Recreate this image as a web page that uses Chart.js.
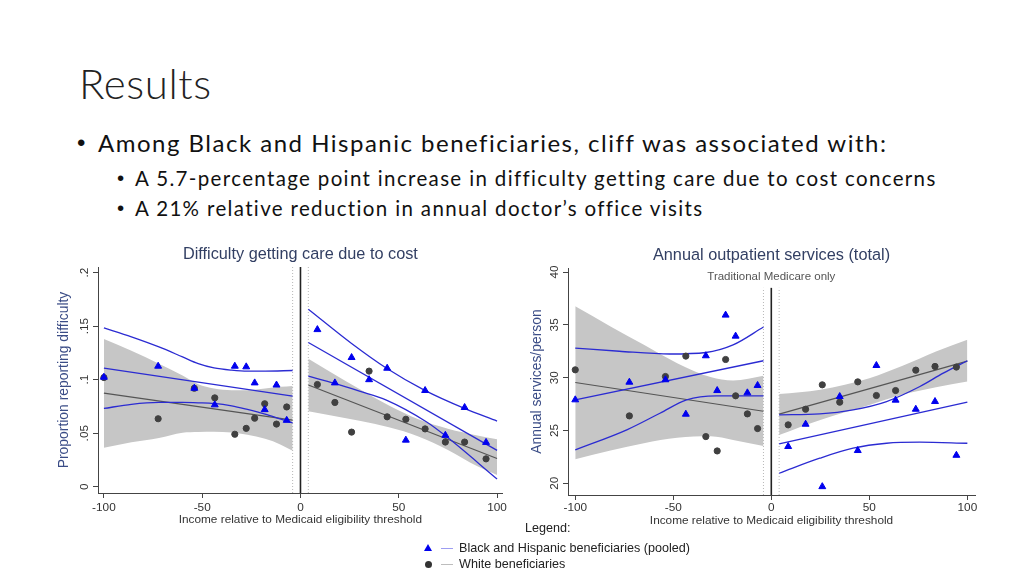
<!DOCTYPE html>
<html>
<head>
<meta charset="utf-8">
<script src="https://cdn.jsdelivr.net/npm/chart.js@4.4.0/dist/chart.umd.min.js"></script>
<style>
  html, body { margin: 0; padding: 0; background: #fff; }
  #slide { position: relative; width: 1024px; height: 576px; overflow: hidden; font-family: Lato, Calibri, sans-serif; color: #111; }
  .title { position: absolute; left: 79px; top: 57.5px; font-size: 42px; line-height: 1.2; font-weight: 300; letter-spacing: 0.6px; color: #222; }
  .line { position: absolute; line-height: 1.2; white-space: nowrap; }
  .bul { position: absolute; font-family: "Liberation Sans", Arial, sans-serif; letter-spacing: 0; }
  #l1 { left: 98px; top: 128.8px; font-size: 24px; letter-spacing: 1.5px; }
  #l1 .bul { left: -21px; }
  #l2 { left: 135px; top: 165.8px; font-size: 20.5px; letter-spacing: 1.35px; }
  #l3 { left: 135px; top: 195.5px; font-size: 20.5px; letter-spacing: 1.35px; }
  #l2 .bul, #l3 .bul { left: -18px; }
  canvas { position: absolute; }
  #chart1 { left: 50px; top: 240px; }
  #chart2 { left: 523px; top: 240px; }
  .legend { position: absolute; font-family: "Liberation Sans", Arial, sans-serif; font-size: 12.6px; color: #222; white-space: nowrap; }
  .tri { position: absolute; width: 0; height: 0; border-left: 4px solid transparent; border-right: 4px solid transparent; border-bottom: 7px solid #0000ee; }
  .dot { position: absolute; width: 7px; height: 7px; border-radius: 50%; background: #333; }
  .seg { position: absolute; width: 12px; height: 1px; }
</style>
</head>
<body>
<div id="slide">
  <div class="title">Results</div>
  <div class="line" id="l1"><span class="bul">•</span>Among Black and Hispanic beneficiaries, cliff was associated with:</div>
  <div class="line" id="l2"><span class="bul">•</span>A 5.7-percentage point increase in difficulty getting care due to cost concerns</div>
  <div class="line" id="l3"><span class="bul">•</span>A 21% relative reduction in annual doctor’s office visits</div>

  <canvas id="chart1" width="460" height="290"></canvas>
  <canvas id="chart2" width="457" height="290"></canvas>

  <div class="legend" style="left:525px; top:521px;">Legend:</div>
  <div class="tri" style="left:424px; top:544px;"></div>
  <div class="seg" style="left:441px; top:548px; background:#9d9df2;"></div>
  <div class="legend" style="left:459px; top:541px;">Black and Hispanic beneficiaries (pooled)</div>
  <div class="dot" style="left:425px; top:561px;"></div>
  <div class="seg" style="left:441px; top:564px; background:#bdbdbd;"></div>
  <div class="legend" style="left:459px; top:557px;">White beneficiaries</div>
</div>

<script>
// 分箱的收入位置（两张图共用）
const binX = [-100, -72.4, -54, -43.6, -33.4, -27.6, -23.3, -18.2, -12.2, -7,
              8.6, 17.5, 26, 34.9, 44.1, 53.6, 63.4, 73.7, 83.5, 94.4];

// 刻度
const xTickValues = [-100, -50, 0, 50, 100];
const diffTickValues = [0, 0.05, 0.1, 0.15, 0.2];
const diffTickLabels = ['0', '.05', '.1', '.15', '.2'];
const outTickValues = [20, 25, 30, 35, 40];
const outTickLabels = ['20', '25', '30', '35', '40'];

// 图1：Difficulty getting care due to cost
const diffBH = [0.1023, 0.1126, 0.092, 0.0765, 0.1126, 0.112, 0.097, 0.072, 0.095, 0.062,
                0.1468, 0.097, 0.1207, 0.1, 0.1107, 0.0435, 0.0899, 0.048, 0.074, 0.0414];
const diffWhite = [0.102, 0.0635, 0.092, 0.083, 0.049, 0.0545, 0.064, 0.0775, 0.0585, 0.0745,
                   0.0955, 0.0787, 0.051, 0.108, 0.0653, 0.063, 0.054, 0.0417, 0.0417, 0.026];

const diffWhiteFitLeftX = [-100, -4];
const diffWhiteFitLeftY = [0.0874, 0.0622];
const diffWhiteBandLeftX = [-100, -86, -72, -60, -52, -44, -35, -27, -18, -10, -4];
const diffWhiteBandLeftHi = [0.138, 0.127, 0.115, 0.104, 0.0958, 0.0918, 0.0902, 0.0902, 0.0918, 0.0933, 0.0942];
const diffWhiteBandLeftLo = [0.0364, 0.0415, 0.0455, 0.0504, 0.051, 0.0513, 0.0506, 0.0485, 0.0447, 0.0393, 0.0336];

const diffWhiteFitRightX = [4, 100];
const diffWhiteFitRightY = [0.095, 0.0264];
const diffWhiteBandRightX = [4, 15, 30, 45, 60, 75, 90, 100];
const diffWhiteBandRightHi = [0.1195, 0.1073, 0.0912, 0.0759, 0.063, 0.0542, 0.0479, 0.0444];
const diffWhiteBandRightLo = [0.0705, 0.0667, 0.0616, 0.0555, 0.047, 0.0344, 0.0191, 0.011];

const diffBHFitLeftX = [-100, -4];
const diffBHFitLeftY = [0.1107, 0.0846];
const diffBHHiLeftX = [-100, -86, -72, -60, -52, -44, -35, -27, -18, -4];
const diffBHHiLeftY = [0.1484, 0.14, 0.1306, 0.1213, 0.115, 0.111, 0.1089, 0.108, 0.108, 0.1086];
const diffBHLoLeftX = [-100, -86, -72, -60, -52, -44, -35, -27, -18, -10, -4];
const diffBHLoLeftY = [0.0731, 0.077, 0.0787, 0.0787, 0.0784, 0.0778, 0.0756, 0.0722, 0.0678, 0.0631, 0.0597];

const diffBHFitRightX = [4, 100];
const diffBHFitRightY = [0.1347, 0.0339];
const diffBHHiRightX = [4, 26, 44, 63, 83.4, 100];
const diffBHHiRightY = [0.1658, 0.1338, 0.1104, 0.0902, 0.0731, 0.0613];
const diffBHLoRightX = [4, 17.5, 30, 43.7, 64, 73.3, 100];
const diffBHLoRightY = [0.1033, 0.0965, 0.0893, 0.0809, 0.0607, 0.0482, 0.0072];

// 图2：Annual outpatient services (total)
const outBH = [27.9, 29.57, 29.8, 26.54, 32.07, 28.78, 35.92, 33.93, 28.56, 29.26,
               23.48, 25.59, 19.68, 28.21, 23.1, 31.15, 27.87, 27.01, 27.74, 22.65];
const outWhite = [30.74, 26.38, 30.11, 32.04, 24.42, 23.06, 31.72, 28.28, 26.57, 25.18,
                  25.53, 27.01, 29.32, 27.68, 29.6, 28.31, 28.78, 30.71, 31.06, 31.0];

const outWhiteFitLeftX = [-100, -4];
const outWhiteFitLeftY = [29.54, 26.82];
const outWhiteBandLeftX = [-100, -82, -65, -48, -31, -19.5, -4];
const outWhiteBandLeftHi = [36.75, 34.85, 33.11, 31.37, 30.05, 29.73, 30.17];
const outWhiteBandLeftLo = [22.27, 23.1, 23.8, 24.3, 24.45, 24.1, 23.54];

const outWhiteFitRightX = [4, 100];
const outWhiteFitRightY = [26.54, 31.56];
const outWhiteBandRightX = [4, 25, 50, 67, 84, 100];
const outWhiteBandRightHi = [28.44, 28.85, 29.95, 31.12, 32.48, 33.59];
const outWhiteBandRightLo = [24.58, 26.0, 27.42, 28.4, 29.1, 29.64];

const outBHFitLeftX = [-100, -4];
const outBHFitLeftY = [27.9, 31.6];
const outBHHiLeftX = [-100, -77.5, -51.7, -33.4, -19.5, -4];
const outBHHiLeftY = [32.8, 32.5, 32.24, 32.38, 33.1, 34.79];
const outBHLoLeftX = [-100, -73.7, -56.8, -43.2, -28, -4];
const outBHLoLeftY = [23.16, 25.06, 26.63, 27.9, 28.28, 28.28];

const outBHFitRightX = [4, 100];
const outBHFitRightY = [23.73, 27.68];
const outBHHiRightX = [4, 24.7, 41.7, 58.8, 75.8, 87.7, 100];
const outBHHiRightY = [26.48, 26.57, 26.95, 27.74, 29.16, 30.43, 31.6];
const outBHLoRightX = [4, 24.7, 41.7, 58.8, 75.8, 100];
const outBHLoRightY = [20.95, 22.37, 23.32, 23.79, 23.89, 23.79];

// 断点线（收入阈值 0，带宽 ±4）
const cutX = 0;
const windowX = [-4, 4];

const FONT = '"Liberation Sans", Arial, sans-serif';
const BLUE = '#0000ee';
const BLUE_LINE = '#2b2bd2';
const DARK = '#404040';
const BAND = '#c6c6c6';

// 把两个数组拼成点
function pts(xs, ys) {
    return xs.map((x, i) => ({ x: x, y: ys[i] }));
}

function lineSet(xs, ys, color, width, curved) {
    return {
        data: pts(xs, ys),
        borderColor: color,
        borderWidth: width,
        pointRadius: 0,
        fill: false,
        cubicInterpolationMode: curved ? 'monotone' : 'default'
    };
}

function bandSets(xs, hi, lo) {
    return [
        { data: pts(xs, hi), borderWidth: 0, pointRadius: 0, backgroundColor: BAND, fill: '+1', cubicInterpolationMode: 'monotone' },
        { data: pts(xs, lo), borderWidth: 0, pointRadius: 0, fill: false, cubicInterpolationMode: 'monotone' }
    ];
}

function vline(x, y0, y1, color, width, dash) {
    return {
        data: [{ x: x, y: y0 }, { x: x, y: y1 }],
        borderColor: color,
        borderWidth: width,
        borderDash: dash,
        pointRadius: 0,
        fill: false
    };
}

// 文字注释插件
const noteText = {
    id: 'noteText',
    afterDraw(chart, args, opts) {
        if (!opts.text) return;
        const ctx = chart.ctx;
        ctx.save();
        ctx.font = '11.5px ' + FONT;
        ctx.fillStyle = '#555';
        ctx.textAlign = 'center';
        ctx.textBaseline = 'middle';
        ctx.fillText(opts.text, chart.scales.x.getPixelForValue(opts.x), chart.scales.y.getPixelForValue(opts.y));
        ctx.restore();
    }
};

function makeChart(id, cfg) {
    const datasets = [
        { data: pts(binX, cfg.bh), showLine: false, pointStyle: 'triangle', pointRadius: 4, borderWidth: 1, pointBackgroundColor: BLUE, pointBorderColor: BLUE },
        { data: pts(binX, cfg.white), showLine: false, pointStyle: 'circle', pointRadius: 3.1, borderWidth: 1, pointBackgroundColor: DARK, pointBorderColor: DARK },
        lineSet(cfg.bhFitL[0], cfg.bhFitL[1], BLUE_LINE, 1.3, false),
        lineSet(cfg.bhHiL[0], cfg.bhHiL[1], BLUE_LINE, 1.3, true),
        lineSet(cfg.bhLoL[0], cfg.bhLoL[1], BLUE_LINE, 1.3, true),
        lineSet(cfg.bhFitR[0], cfg.bhFitR[1], BLUE_LINE, 1.3, false),
        lineSet(cfg.bhHiR[0], cfg.bhHiR[1], BLUE_LINE, 1.3, true),
        lineSet(cfg.bhLoR[0], cfg.bhLoR[1], BLUE_LINE, 1.3, true),
        lineSet(cfg.wFitL[0], cfg.wFitL[1], '#555', 1.2, false),
        lineSet(cfg.wFitR[0], cfg.wFitR[1], '#555', 1.2, false),
        vline(cutX, cfg.yMin, cfg.lineTop, '#222', 1.6, []),
        vline(windowX[0], cfg.yMin, cfg.lineTop, '#b8b8b8', 1, [1, 2]),
        vline(windowX[1], cfg.yMin, cfg.lineTop, '#b8b8b8', 1, [1, 2])
    ].concat(bandSets(cfg.bandL[0], cfg.bandL[1], cfg.bandL[2]), bandSets(cfg.bandR[0], cfg.bandR[1], cfg.bandR[2]));

    return new Chart(document.getElementById(id), {
        type: 'line',
        data: { datasets: datasets },
        plugins: [noteText],
        options: {
            responsive: false,
            animation: false,
            layout: { padding: { left: 0, right: 5, top: 0, bottom: 0 } },
            plugins: {
                legend: { display: false },
                tooltip: { enabled: false },
                title: {
                    display: true,
                    fullSize: false,
                    text: cfg.title,
                    color: '#323f63',
                    font: { family: FONT, size: 16.3, weight: 'normal' },
                    padding: { top: cfg.titleTop, bottom: 2.44 }
                },
                noteText: cfg.note
            },
            scales: {
                x: {
                    type: 'linear',
                    min: cfg.xMin,
                    max: cfg.xMax,
                    afterBuildTicks: s => { s.ticks = xTickValues.map(v => ({ value: v })); },
                    afterFit: s => { s.height = cfg.xAxisH; },
                    grid: { drawOnChartArea: false, drawTicks: true, tickLength: 5, tickColor: '#444' },
                    border: { display: true, color: '#444', width: 1 },
                    ticks: { color: '#333', font: { family: FONT, size: 11.8 }, padding: cfg.xTickPad, maxRotation: 0 },
                    title: {
                        display: true,
                        text: 'Income relative to Medicaid eligibility threshold',
                        color: '#333',
                        font: { family: FONT, size: 11.8 },
                        padding: { top: 0, bottom: cfg.xTitlePad }
                    }
                },
                y: {
                    min: cfg.yMin,
                    max: cfg.yMax,
                    afterBuildTicks: s => { s.ticks = cfg.yTicks.map(v => ({ value: v })); },
                    afterFit: s => { s.width = cfg.yAxisW; },
                    grid: { drawOnChartArea: false, drawTicks: true, tickLength: 5, tickColor: '#444' },
                    border: { display: true, color: '#444', width: 1 },
                    ticks: {
                        color: '#333',
                        font: { family: FONT, size: 11.8 },
                        minRotation: 90,
                        maxRotation: 90,
                        crossAlign: 'center',
                        padding: cfg.yTickPad,
                        callback: v => cfg.yLabels[cfg.yTicks.indexOf(v)]
                    },
                    title: {
                        display: true,
                        text: cfg.yTitle,
                        color: '#3a4c86',
                        font: { family: FONT, size: 13.9 },
                        padding: { top: cfg.yTitlePad, bottom: 0 }
                    }
                }
            }
        }
    });
}

makeChart('chart1', {
    title: 'Difficulty getting care due to cost',
    titleTop: 5,
    yTitle: 'Proportion reporting difficulty',
    bh: diffBH, white: diffWhite,
    bhFitL: [diffBHFitLeftX, diffBHFitLeftY],
    bhHiL: [diffBHHiLeftX, diffBHHiLeftY],
    bhLoL: [diffBHLoLeftX, diffBHLoLeftY],
    bhFitR: [diffBHFitRightX, diffBHFitRightY],
    bhHiR: [diffBHHiRightX, diffBHHiRightY],
    bhLoR: [diffBHLoRightX, diffBHLoRightY],
    wFitL: [diffWhiteFitLeftX, diffWhiteFitLeftY],
    wFitR: [diffWhiteFitRightX, diffWhiteFitRightY],
    bandL: [diffWhiteBandLeftX, diffWhiteBandLeftHi, diffWhiteBandLeftLo],
    bandR: [diffWhiteBandRightX, diffWhiteBandRightHi, diffWhiteBandRightLo],
    xMin: -103, xMax: 102.9,
    yMin: -0.0059, yMax: 0.2053, lineTop: 0.2053,
    yTicks: diffTickValues, yLabels: diffTickLabels,
    xAxisH: 37, yAxisW: 48,
    xTickPad: 3, xTitlePad: 2.8, yTickPad: 0, yTitlePad: 6,
    note: {}
});

makeChart('chart2', {
    title: 'Annual outpatient services (total)',
    titleTop: 6,
    yTitle: 'Annual services/person',
    bh: outBH, white: outWhite,
    bhFitL: [outBHFitLeftX, outBHFitLeftY],
    bhHiL: [outBHHiLeftX, outBHHiLeftY],
    bhLoL: [outBHLoLeftX, outBHLoLeftY],
    bhFitR: [outBHFitRightX, outBHFitRightY],
    bhHiR: [outBHHiRightX, outBHHiRightY],
    bhLoR: [outBHLoRightX, outBHLoRightY],
    wFitL: [outWhiteFitLeftX, outWhiteFitLeftY],
    wFitR: [outWhiteFitRightX, outWhiteFitRightY],
    bandL: [outWhiteBandLeftX, outWhiteBandLeftHi, outWhiteBandLeftLo],
    bandR: [outWhiteBandRightX, outWhiteBandRightHi, outWhiteBandRightLo],
    xMin: -103.7, xMax: 103.9,
    yMin: 18.89, yMax: 40.38, lineTop: 38.5,
    yTicks: outTickValues, yLabels: outTickLabels,
    xAxisH: 35, yAxisW: 45,
    xTickPad: 1.1, xTitlePad: 2.1, yTickPad: 1.4, yTitlePad: 5.4,
    note: { text: 'Traditional Medicare only', x: 0, y: 39.53 }
});
</script>
</body>
</html>
